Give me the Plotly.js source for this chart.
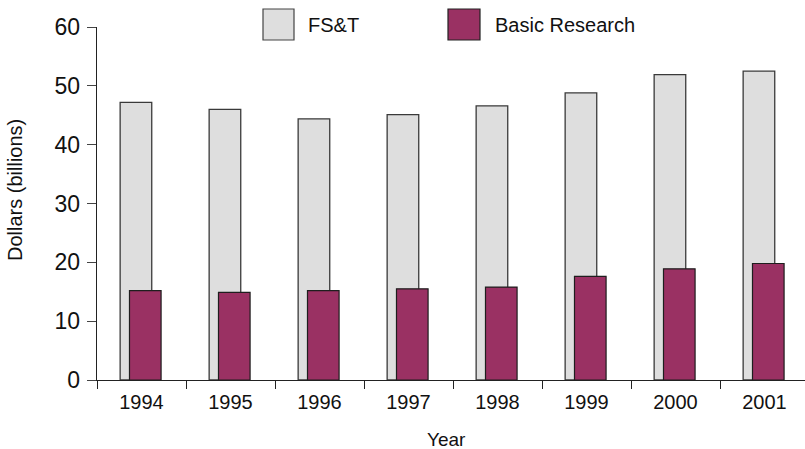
<!DOCTYPE html>
<html>
<head>
<meta charset="utf-8">
<script src="https://cdn.plot.ly/plotly-3.0.1.min.js"></script>
<style>html,body{margin:0;padding:0;background:#fff;}#chart{width:805px;height:449px;}</style>
</head>
<body>
<div id="chart"></div>
<script>
const years = ["1994","1995","1996","1997","1998","1999","2000","2001"];
const seriesNames = ["FS&T", "Basic Research"];
const fstValues = [47.2, 46.0, 44.4, 45.1, 46.6, 48.8, 51.9, 52.5];
const basicValues = [15.2, 14.9, 15.2, 15.5, 15.8, 17.6, 18.9, 19.8];
const yTicks = [0, 10, 20, 30, 40, 50, 60];
const xTitle = "Year";
const yTitle = "Dollars (billions)";

const FONT = "Liberation Sans, Arial, Helvetica, sans-serif";
const grayFill = "#dedede", maroon = "#9a3163";

const traces = [
  {type: "bar", name: seriesNames[0], x: years, y: fstValues, width: 0.355, offset: -0.24,
   marker: {color: grayFill, line: {color: "#3a3a3a", width: 1.3}}, showlegend: false, hoverinfo: "skip"},
  {type: "bar", name: seriesNames[1], x: years, y: basicValues, width: 0.355, offset: -0.135,
   marker: {color: maroon, line: {color: "#1e1e1e", width: 1.2}}, showlegend: false, hoverinfo: "skip"}
];

const layout = {
  width: 805, height: 449,
  margin: {l: 97, r: 0, t: 27, b: 69},
  paper_bgcolor: "#fff", plot_bgcolor: "#fff",
  barmode: "overlay",
  font: {family: FONT, color: "#111"},
  xaxis: {
    type: "category", range: [-0.5, 7.455],
    tickson: "boundaries", ticks: "outside", ticklen: 8, tickwidth: 1, tickcolor: "#222",
    showline: true, linecolor: "#222", linewidth: 1.3, showgrid: false, zeroline: false,
    tickfont: {size: 20, family: FONT, color: "#111"}, ticklabelstandoff: 4
  },
  yaxis: {
    range: [0, 60], tickvals: yTicks, ticktext: yTicks.map(String),
    ticks: "outside", ticklen: 9, tickwidth: 1, tickcolor: "#444",
    showline: true, linecolor: "#222", linewidth: 1.3, showgrid: false, zeroline: false,
    tickfont: {size: 23, family: FONT, color: "#111"}, ticklabelstandoff: 2
  },
  shapes: [
    {type: "rect", xref: "paper", yref: "paper", x0: (263-97)/708, x1: (294-97)/708, y0: (380-40)/353, y1: (380-9)/353,
     fillcolor: grayFill, line: {color: "#444", width: 1.2}},
    {type: "rect", xref: "paper", yref: "paper", x0: (448-97)/708, x1: (480-97)/708, y0: (380-40)/353, y1: (380-9)/353,
     fillcolor: maroon, line: {color: "#222", width: 1.2}}
  ],
  annotations: [
    {xref: "paper", yref: "paper", x: (306-97)/708, y: (380-25)/353, xanchor: "left", yanchor: "middle",
     text: seriesNames[0], showarrow: false, font: {size: 20, family: FONT, color: "#111"}},
    {xref: "paper", yref: "paper", x: (493-97)/708, y: (380-25)/353, xanchor: "left", yanchor: "middle",
     text: seriesNames[1], showarrow: false, font: {size: 20, family: FONT, color: "#111"}},
    {xref: "paper", yref: "paper", x: (446-97)/708, y: (380-439)/353, xanchor: "center", yanchor: "middle",
     text: xTitle, showarrow: false, font: {size: 19, family: FONT, color: "#111"}},
    {xref: "paper", yref: "paper", x: (15-97)/708, y: (380-190)/353, xanchor: "center", yanchor: "middle",
     textangle: -90, text: yTitle, showarrow: false, font: {size: 20, family: FONT, color: "#111"}}
  ]
};

Plotly.newPlot("chart", traces, layout, {displayModeBar: false, staticPlot: true});
</script>
</body>
</html>
